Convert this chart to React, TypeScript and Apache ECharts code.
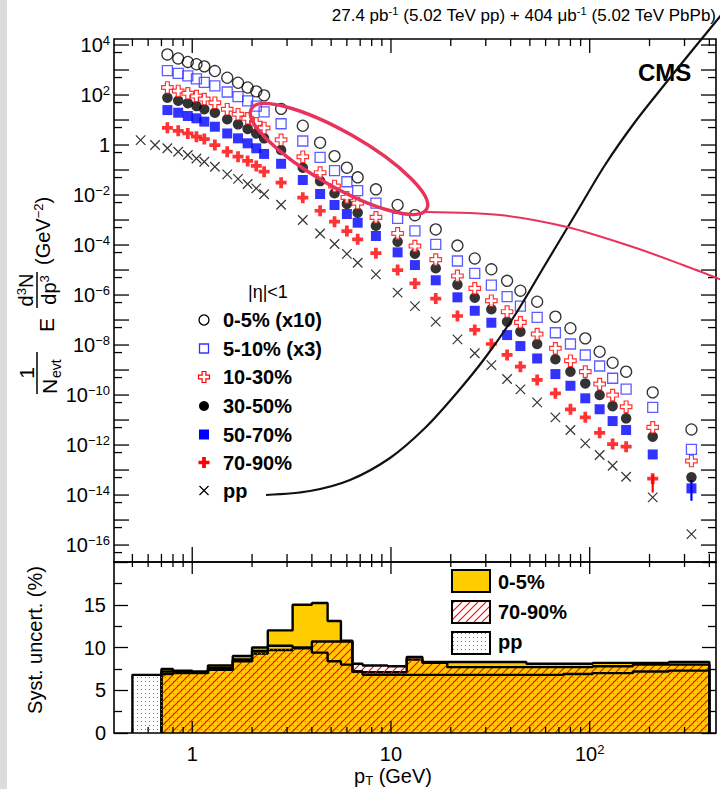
import React, { useEffect, useRef } from "react";
import * as echarts from "echarts";

// ---------------- DATA ----------------
const ptCentres = [0.75, 0.85, 0.95, 1.05, 1.15, 1.3, 1.5, 1.7, 1.9, 2.1, 2.3, 2.8, 3.6, 4.4, 5.2, 6.0, 6.8, 8.4, 10.8, 13.2, 16.8, 21.6, 26.4, 32, 38.4, 44.8, 54.4, 67.2, 80, 95, 112.2, 130.4, 152.5, 207.5, 325];
const ppPtCentres = [0.55, 0.65, ...ptCentres];

const yield0to5x10 = [4.2e3, 2.9e3, 2.1e3, 1.7e3, 1.4e3, 9.1e2, 4.9e2, 3.1e2, 2.0e2, 1.4e2, 97, 28, 5.9, 1.24, 0.36, 0.124, 0.051, 0.0169, 4.0e-3, 1.56e-3, 4.2e-4, 9.5e-5, 2.9e-5, 1.07e-5, 3.7e-6, 1.49e-6, 5.4e-7, 1.36e-7, 4.7e-8, 1.85e-8, 5.4e-9, 1.96e-9, 8.6e-10, 1.28e-10, 4.2e-12];
const yield5to10x3 = [9.4e2, 7.4e2, 5.8e2, 4.4e2, 3.2e2, 2.3e2, 1.32e2, 86, 58, 36, 21, 7.1, 1.45, 0.32, 0.094, 0.034, 0.0149, 4.7e-3, 1.17e-3, 3.7e-4, 1.07e-4, 2.3e-5, 7.4e-6, 2.5e-6, 8.6e-7, 3.6e-7, 1.28e-7, 3.1e-8, 1.1e-8, 4.0e-9, 1.45e-9, 4.7e-10, 1.74e-10, 3.2e-11, 6.7e-13];
const yield10to30 = [2.0e2, 1.45e2, 1.17e2, 91, 69, 49, 27, 17, 11.7, 7.4, 4.8, 1.62, 0.34, 0.078, 0.023, 8.0e-3, 4.7e-3, 1.28e-3, 2.9e-4, 9.1e-5, 2.6e-5, 5.8e-6, 1.85e-6, 5.9e-7, 2.15e-7, 8.1e-8, 2.75e-8, 7.4e-9, 2.35e-9, 8.6e-10, 2.75e-10, 1.0e-10, 3.4e-11, 5.1e-12, 2.3e-13];
const yield30to50 = [78, 59, 47, 36, 27, 19.6, 10.7, 6.7, 4.4, 2.9, 1.85, 0.63, 0.124, 0.036, 0.0117, 4.4e-3, 1.96e-3, 5.9e-4, 1.36e-4, 4.5e-5, 1.17e-5, 2.6e-6, 7.8e-7, 2.7e-7, 8.6e-8, 3.4e-8, 1.1e-8, 2.7e-9, 8.6e-10, 2.9e-10, 1.0e-10, 3.6e-11, 1.17e-11, 2.15e-12, 5.1e-14];
const yield50to70 = [25, 19.6, 14.5, 11.7, 8.6, 5.4, 2.9, 1.85, 1.17, 0.74, 0.44, 0.178, 0.040, 0.011, 4.0e-3, 1.74e-3, 7.8e-4, 2.3e-4, 5.1e-5, 1.58e-5, 3.9e-6, 8.1e-7, 2.35e-7, 7.8e-8, 2.5e-8, 9.1e-9, 2.9e-9, 6.9e-10, 2.35e-10, 7.4e-11, 2.7e-11, 9.1e-12, 4.0e-12, 4.2e-13, 1.85e-14];
const yield70to90 = [4.9, 3.7, 2.9, 2.15, 1.74, 1.0, 0.54, 0.34, 0.23, 0.145, 0.086, 0.031, 7.8e-3, 2.35e-3, 8.6e-4, 3.6e-4, 1.69e-4, 4.7e-5, 1.0e-5, 2.9e-6, 7.2e-7, 1.45e-7, 4.0e-8, 1.1e-8, 4.0e-9, 1.36e-9, 4.0e-10, 1.17e-10, 2.7e-11, 1.28e-11, 3.1e-12, 1.1e-12, 8.6e-13, 4.5e-14, null];
const yieldPP = [1.58, 1.0, 0.74, 0.54, 0.40, 0.29, 0.215, 0.135, 0.067, 0.044, 0.0275, 0.0185, 0.0107, 4.1e-3, 1.0e-3, 2.9e-4, 1.1e-4, 4.4e-5, 1.96e-5, 6.7e-6, 1.24e-6, 3.6e-7, 8.6e-8, 1.69e-8, 4.7e-9, 1.58e-9, 4.4e-10, 1.69e-10, 5.1e-11, 1.28e-11, 4.0e-12, 1.17e-12, 4.0e-13, 1.49e-13, 5.4e-14, 8.1e-15, 2.75e-16];

// visible error bars (pT, low, high)
const err70to90Pt = [207.5];
const err70to90Lo = [1.26e-14];
const err70to90Hi = [6.3e-14];
const err50to70Pt = [325];
const err50to70Lo = [5.9e-15];
const err50to70Hi = [4.0e-14];

// systematic uncertainties (%), histogram bins
const systEdges = [0.7, 0.8, 0.9, 1.0, 1.1, 1.2, 1.4, 1.6, 1.8, 2.0, 2.2, 2.4, 3.2, 4.0, 4.8, 5.6, 6.4, 7.2, 9.6, 12, 14.4, 19.2, 24, 28.8, 35.2, 41.6, 48, 60.8, 73.6, 86.4, 103.6, 120.8, 140, 165, 250, 400];
const systPPEdges = [0.5, 0.6, ...systEdges];
const syst0to5 = [7.5, 7.3, 7.3, 7.2, 7.2, 7.9, 7.9, 9.0, 9.0, 10.0, 10.0, 12.0, 15.0, 15.2, 13.1, 10.8, 7.2, 7.1, 7.1, 8.6, 8.3, 8.3, 8.3, 8.3, 8.3, 8.3, 8.1, 8.1, 8.1, 8.1, 8.2, 8.2, 8.2, 8.2, 8.3];
const syst70to90 = [7.2, 7.2, 7.2, 7.1, 7.1, 7.6, 7.6, 8.6, 8.6, 9.3, 9.3, 9.7, 9.9, 10.7, 10.7, 10.7, 8.1, 7.9, 7.8, 8.9, 8.2, 7.7, 7.7, 7.7, 7.7, 7.7, 7.7, 7.7, 7.7, 7.7, 7.8, 7.8, 7.8, 8.0, 8.0];
const systPP = [6.8, 6.8, 6.9, 7.0, 7.0, 7.0, 7.0, 7.4, 7.4, 8.4, 8.4, 9.6, 9.6, 10.2, 10.0, 9.4, 8.4, 8.0, 7.2, 6.8, 6.8, 6.8, 6.8, 6.8, 6.8, 6.8, 6.8, 6.8, 6.8, 6.8, 6.9, 6.9, 7.0, 7.0, 7.0, 7.2, 7.3];

// axis ticks / ranges
const xTickValues = [0.5, 0.6, 0.7, 0.8, 0.9, 1, 2, 3, 4, 5, 6, 7, 8, 9, 10, 20, 30, 40, 50, 60, 70, 80, 90, 100, 200, 300, 400];
const xMajorTicks = [1, 10, 100];
const yDecadeTicks = [1e-16, 1e-15, 1e-14, 1e-13, 1e-12, 1e-11, 1e-10, 1e-9, 1e-8, 1e-7, 1e-6, 1e-5, 1e-4, 1e-3, 1e-2, 1e-1, 1, 1e1, 1e2, 1e3, 1e4];
const yHalfTicks = [5e-17, 5e-16, 5e-15, 5e-14, 5e-13, 5e-12, 5e-11, 5e-10, 5e-9, 5e-8, 5e-7, 5e-6, 5e-5, 5e-4, 5e-3, 5e-2, 0.5, 5, 50, 500, 5e3];
const xRange = [0.404, 432];
const yRangeUpper = [2.1e-17, 1.74e4];
const yRangeLower = [0, 20];

// ---------------- HELPERS ----------------
const LG = Math.log10;
const FONT = '"Liberation Sans", Arial, Helvetica, sans-serif';
const PLUS = "path://M3.3,0H6.7V3.3H10V6.7H6.7V10H3.3V6.7H0V3.3H3.3Z";
const CROSS = "path://M0,0L10,10M10,0L0,10";

function expLabel(e: number): string {
  if (e === 0) return "{b|1}";
  if (e === 1) return "{b|10}";
  return `{b|10}{s|${e < 0 ? "\u2212" : ""}${Math.abs(e)}}`;
}
const richNum = {
  b: { fontSize: 20, fontFamily: FONT, color: "#000", lineHeight: 22 },
  s: { fontSize: 13, fontFamily: FONT, color: "#000", lineHeight: 13, verticalAlign: "top" },
};

function scatterData(pts: number[], vals: (number | null)[]) {
  const out: number[][] = [];
  pts.forEach((p, i) => {
    const v = vals[i];
    if (v != null) out.push([LG(p), LG(v)]);
  });
  return out;
}
function histData(edges: number[], vals: number[]) {
  const d: number[][] = [[LG(edges[0]), 0]];
  vals.forEach((v, i) => d.push([LG(edges[i]), v]));
  d.push([LG(edges[edges.length - 1]), vals[vals.length - 1]]);
  d.push([LG(edges[edges.length - 1]), 0]);
  return d;
}
function plusPts(cx: number, cy: number, s: number) {
  const h = s / 2, t = s * 0.17;
  return [[cx - t, cy - h], [cx + t, cy - h], [cx + t, cy - t], [cx + h, cy - t], [cx + h, cy + t], [cx + t, cy + t], [cx + t, cy + h], [cx - t, cy + h], [cx - t, cy + t], [cx - h, cy + t], [cx - h, cy - t], [cx - t, cy - t]];
}

function makeHatch() {
  const c = document.createElement("canvas");
  c.width = 8; c.height = 8;
  const g = c.getContext("2d")!;
  g.strokeStyle = "#ff0000"; g.lineWidth = 1.1;
  g.beginPath();
  g.moveTo(0, 8); g.lineTo(8, 0);
  g.moveTo(-2, 2); g.lineTo(2, -2);
  g.moveTo(6, 10); g.lineTo(10, 6);
  g.stroke();
  return c;
}
function makeDots() {
  const c = document.createElement("canvas");
  c.width = 4; c.height = 4;
  const g = c.getContext("2d")!;
  g.fillStyle = "#7a7a7a";
  g.fillRect(1, 1, 1, 1);
  return c;
}

function xTickSeries(xIdx: number, yIdx: number, yRef: number, topMaj: number, topMin: number, botMaj: number, botMin: number) {
  return {
    type: "custom",
    xAxisIndex: xIdx,
    yAxisIndex: yIdx,
    silent: true,
    z: 20,
    data: xTickValues.map((t) => [LG(t), yRef, xMajorTicks.includes(t) ? 1 : 0]),
    renderItem: (params: any, api: any) => {
      const cs = params.coordSys;
      const x = api.coord([api.value(0), yRef])[0];
      const major = api.value(2) === 1;
      const bot = cs.y + cs.height;
      const st = { stroke: "#000", lineWidth: 1.3 };
      return {
        type: "group",
        children: [
          { type: "line", shape: { x1: x, y1: cs.y, x2: x, y2: cs.y + (major ? topMaj : topMin) }, style: st },
          { type: "line", shape: { x1: x, y1: bot, x2: x, y2: bot - (major ? botMaj : botMin) }, style: st },
        ],
      };
    },
  };
}

function yTickSeries(lenMaj: number, lenMin: number) {
  const data = [
    ...yDecadeTicks.map((t) => [0, LG(t), 1]),
    ...yHalfTicks.map((t) => [0, LG(t), 0]),
  ];
  return {
    type: "custom",
    xAxisIndex: 0,
    yAxisIndex: 0,
    silent: true,
    z: 20,
    data,
    renderItem: (params: any, api: any) => {
      const cs = params.coordSys;
      const y = api.coord([0, api.value(1)])[1];
      if (y < cs.y - 0.5 || y > cs.y + cs.height + 0.5) return null;
      const len = api.value(2) === 1 ? lenMaj : lenMin;
      const st = { stroke: "#000", lineWidth: 1.3 };
      return {
        type: "group",
        children: [
          { type: "line", shape: { x1: cs.x, y1: y, x2: cs.x + len, y2: y }, style: st },
          { type: "line", shape: { x1: cs.x + cs.width, y1: y, x2: cs.x + cs.width - len, y2: y }, style: st },
        ],
      };
    },
  };
}

function errSeries(pts: number[], lo: number[], hi: number[], color: string) {
  return {
    type: "custom",
    xAxisIndex: 0,
    yAxisIndex: 0,
    silent: true,
    z: 3,
    data: pts.map((p, i) => [LG(p), LG(lo[i]), LG(hi[i])]),
    renderItem: (_p: any, api: any) => {
      const a = api.coord([api.value(0), api.value(1)]);
      const b = api.coord([api.value(0), api.value(2)]);
      return { type: "line", shape: { x1: a[0], y1: a[1], x2: b[0], y2: b[1] }, style: { stroke: color, lineWidth: 2.2 } };
    },
  };
}

export default function App() {
  const ref = useRef<HTMLDivElement>(null);
  useEffect(() => {
    const chart = echarts.init(ref.current!, undefined, { renderer: "svg" });
    const hatch = { image: makeHatch(), repeat: "repeat" };
    const dots = { image: makeDots(), repeat: "repeat" };
    const noLine = { show: false, onZero: false };

    const xCommon = {
      type: "value",
      min: LG(xRange[0]),
      max: LG(xRange[1]),
      minInterval: 1,
      maxInterval: 1,
      axisLine: noLine,
      axisTick: { show: false },
      splitLine: { show: false },
    };
    const yUp = {
      type: "value",
      gridIndex: 0,
      min: LG(yRangeUpper[0]),
      max: LG(yRangeUpper[1]),
      minInterval: 1,
      maxInterval: 1,
      axisLine: noLine,
      splitLine: { show: false },
      axisTick: { show: false },
    };
    const yLow = {
      type: "value",
      gridIndex: 1,
      min: yRangeLower[0],
      max: yRangeLower[1],
      interval: 5,
      axisLine: noLine,
      splitLine: { show: false },
      axisTick: { show: true, inside: true, length: 14, lineStyle: { color: "#000", width: 1.3 } },
      minorTick: { show: true, splitNumber: 2, length: 8, lineStyle: { color: "#000", width: 1.3 } },
    };

    const markerSeries = (name: string, pts: number[], vals: (number | null)[], symbol: string, size: number, itemStyle: any, z: number) => ({
      name,
      type: "scatter",
      xAxisIndex: 0,
      yAxisIndex: 0,
      symbol,
      symbolSize: size,
      itemStyle,
      z,
      data: scatterData(pts, vals),
    });

    const histSeries = (name: string, edges: number[], vals: number[], fill: any, z: number) => ({
      name,
      type: "line",
      xAxisIndex: 1,
      yAxisIndex: 2,
      step: "end",
      showSymbol: false,
      symbol: "none",
      z,
      lineStyle: { color: "#000", width: 2.4 },
      areaStyle: { color: fill, opacity: 1 },
      data: histData(edges, vals),
    });

    const txt = (x: number, y: number, text: string, size: number, opts: any = {}) => ({
      type: "text",
      x,
      y,
      z: 150,
      style: {
        text,
        fontSize: size,
        fontFamily: FONT,
        fontWeight: opts.bold ? "bold" : "normal",
        fill: "#000",
        align: opts.align || "left",
        verticalAlign: opts.va || "middle",
        rich: opts.rich,
      },
    });

    const legY = [320, 348.5, 377, 406, 434.5, 462.5, 490.5];
    const legX = 204;

    const option: any = {
      animation: false,
      backgroundColor: "#fff",
      grid: [
        { left: 114, top: 39, width: 602, height: 523 },
        { left: 114, top: 562, width: 602, height: 171 },
      ],
      xAxis: [
        { ...xCommon, gridIndex: 0, axisLabel: { show: false } },
        {
          ...xCommon,
          gridIndex: 1,
          axisLabel: {
            show: true,
            margin: 10,
            rich: richNum,
            formatter: (v: number) => {
              const e = Math.round(v);
              return Math.abs(v - e) > 1e-6 ? "" : expLabel(e);
            },
          },
        },
      ],
      yAxis: [
        {
          ...yUp,
          position: "left",
          axisLabel: {
            show: true,
            margin: 4,
            rich: richNum,
            formatter: (v: number) => {
              const e = Math.round(v);
              if (Math.abs(v - e) > 1e-6 || e % 2 !== 0) return "";
              return expLabel(e);
            },
          },
        },
        { ...yUp, position: "right", axisLabel: { show: false } },
        {
          ...yLow,
          position: "left",
          axisLabel: {
            show: true,
            margin: 8,
            fontSize: 20,
            fontFamily: FONT,
            color: "#000",
            formatter: (v: number) => (v >= 20 ? "" : String(v)),
          },
        },
        { ...yLow, position: "right", axisLabel: { show: false } },
      ],
      series: [
        markerSeries("pp", ppPtCentres, yieldPP, CROSS, 9.5, { color: "rgba(0,0,0,0)", borderColor: "#000", borderWidth: 1.2 }, 4),
        markerSeries("70-90%", ptCentres, yield70to90, PLUS, 11, { color: "#ff0000" }, 5),
        markerSeries("50-70%", ptCentres, yield50to70, "rect", 10, { color: "#0000ff" }, 5),
        markerSeries("30-50%", ptCentres, yield30to50, "circle", 10.5, { color: "#000" }, 5),
        markerSeries("10-30%", ptCentres, yield10to30, PLUS, 11.5, { color: "#fff", borderColor: "#ff0000", borderWidth: 1.2 }, 6),
        markerSeries("5-10% (x3)", ptCentres, yield5to10x3, "rect", 10, { color: "rgba(255,255,255,0)", borderColor: "#3434ff", borderWidth: 1.3 }, 6),
        markerSeries("0-5% (x10)", ptCentres, yield0to5x10, "circle", 11, { color: "rgba(255,255,255,0)", borderColor: "#000", borderWidth: 1.3 }, 6),
        errSeries(err70to90Pt, err70to90Lo, err70to90Hi, "#ff0000"),
        errSeries(err50to70Pt, err50to70Lo, err50to70Hi, "#0000ff"),
        histSeries("0-5% syst", systEdges, syst0to5, "#ffcc00", 2),
        histSeries("70-90% syst", systEdges, syst70to90, hatch, 3),
        histSeries("pp syst", systPPEdges, systPP, dots, 4),
        xTickSeries(0, 0, 0, 14, 7, 15, 8),
        xTickSeries(1, 2, 5, 12, 5, 12, 6),
        yTickSeries(15, 8),
      ],
      graphic: [
        { type: "rect", shape: { x: 0, y: 0, width: 7, height: 789 }, style: { fill: "#dcdcdc" }, z: 1 },
        { type: "rect", shape: { x: 114, y: 39, width: 602, height: 523 }, style: { fill: "none", stroke: "#000", lineWidth: 1.6 }, z: 120 },
        { type: "rect", shape: { x: 114, y: 562, width: 602, height: 171 }, style: { fill: "none", stroke: "#000", lineWidth: 1.6 }, z: 120 },
        // header
        txt(716, 15, "{n|27.4 pb}{s|-1}{n| (5.02 TeV pp) + 404 \u03bcb}{s|-1}{n| (5.02 TeV PbPb)}", 17, {
          align: "right",
          rich: {
            n: { fontSize: 17, fontFamily: FONT, lineHeight: 19, fill: "#000" },
            s: { fontSize: 11, fontFamily: FONT, lineHeight: 11, verticalAlign: "top", fill: "#000" },
          },
        }),
        txt(638, 72, "CMS", 24, { bold: true }),
        // upper legend
        txt(248, 292, "|\u03b7|<1", 18),
        { type: "circle", z: 150, shape: { cx: legX, cy: legY[0], r: 5 }, style: { fill: "none", stroke: "#000", lineWidth: 1.3 } },
        { type: "rect", z: 150, shape: { x: legX - 4.5, y: legY[1] - 4.5, width: 9, height: 9 }, style: { fill: "none", stroke: "#3434ff", lineWidth: 1.3 } },
        { type: "polygon", z: 150, shape: { points: plusPts(legX, legY[2], 11) }, style: { fill: "#fff", stroke: "#ff0000", lineWidth: 1.2 } },
        { type: "circle", z: 150, shape: { cx: legX, cy: legY[3], r: 5 }, style: { fill: "#000" } },
        { type: "rect", z: 150, shape: { x: legX - 5, y: legY[4] - 5, width: 10, height: 10 }, style: { fill: "#0000ff" } },
        { type: "polygon", z: 150, shape: { points: plusPts(legX, legY[5], 11) }, style: { fill: "#ff0000" } },
        { type: "line", z: 150, shape: { x1: legX - 4.5, y1: legY[6] - 4.5, x2: legX + 4.5, y2: legY[6] + 4.5 }, style: { stroke: "#000", lineWidth: 1.2 } },
        { type: "line", z: 150, shape: { x1: legX + 4.5, y1: legY[6] - 4.5, x2: legX - 4.5, y2: legY[6] + 4.5 }, style: { stroke: "#000", lineWidth: 1.2 } },
        txt(223, legY[0], "0-5% (x10)", 20, { bold: true }),
        txt(223, legY[1], "5-10% (x3)", 20, { bold: true }),
        txt(223, legY[2], "10-30%", 20, { bold: true }),
        txt(223, legY[3], "30-50%", 20, { bold: true }),
        txt(223, legY[4], "50-70%", 20, { bold: true }),
        txt(223, legY[5], "70-90%", 20, { bold: true }),
        txt(223, legY[6], "pp", 20, { bold: true }),
        // lower legend
        { type: "rect", z: 150, shape: { x: 452, y: 570, width: 38, height: 22 }, style: { fill: "#ffcc00", stroke: "#000", lineWidth: 2 } },
        { type: "rect", z: 150, shape: { x: 452, y: 601, width: 38, height: 22 }, style: { fill: "#fff" } },
        { type: "rect", z: 151, shape: { x: 452, y: 601, width: 38, height: 22 }, style: { fill: hatch, stroke: "#000", lineWidth: 2 } },
        { type: "rect", z: 150, shape: { x: 452, y: 632, width: 38, height: 22 }, style: { fill: "#fff" } },
        { type: "rect", z: 151, shape: { x: 452, y: 632, width: 38, height: 22 }, style: { fill: dots, stroke: "#000", lineWidth: 2 } },
        txt(498, 582, "0-5%", 20, { bold: true }),
        txt(498, 612, "70-90%", 20, { bold: true }),
        txt(498, 642, "pp", 20, { bold: true }),
        // y titles
        {
          type: "group",
          x: 37,
          y: 400,
          rotation: Math.PI / 2,
          z: 150,
          children: [
            { type: "text", x: 27, y: -11, style: { text: "1", fontSize: 21, fontFamily: FONT, fill: "#000", align: "center", verticalAlign: "middle" } },
            { type: "line", shape: { x1: 6, y1: 0, x2: 48, y2: 0 }, style: { stroke: "#000", lineWidth: 1.5 } },
            { type: "text", x: 6, y: 12, style: { text: "N", fontSize: 21, fontFamily: FONT, fill: "#000", align: "left", verticalAlign: "middle" } },
            { type: "text", x: 22, y: 19, style: { text: "evt", fontSize: 14, fontFamily: FONT, fill: "#000", align: "left", verticalAlign: "middle" } },
            { type: "text", x: 75, y: 9, style: { text: "E", fontSize: 21, fontFamily: FONT, fill: "#000", align: "center", verticalAlign: "middle" } },
            { type: "text", x: 110, y: -11, style: { text: "{b|d}{s|3}{b|N}", rich: richNum, fontSize: 20, fontFamily: FONT, fill: "#000", align: "center", verticalAlign: "middle" } },
            { type: "line", shape: { x1: 92, y1: 0, x2: 128, y2: 0 }, style: { stroke: "#000", lineWidth: 1.5 } },
            { type: "text", x: 110, y: 12, style: { text: "{b|dp}{s|3}", rich: richNum, fontSize: 20, fontFamily: FONT, fill: "#000", align: "center", verticalAlign: "middle" } },
            { type: "text", x: 135, y: 6, style: { text: "{b|(GeV}{s|\u22122}{b|)}", rich: richNum, fontSize: 20, fontFamily: FONT, fill: "#000", align: "left", verticalAlign: "middle" } },
          ],
        },
        { type: "text", x: 35, y: 640, rotation: Math.PI / 2, z: 150, style: { text: "Syst. uncert. (%)", fontSize: 20, fontFamily: FONT, fill: "#000", align: "center", verticalAlign: "middle" } },
        // x title
        txt(393, 776, "{b|p}{u|T}{b| (GeV)}", 20, {
          align: "center",
          rich: {
            b: { fontSize: 20, fontFamily: FONT, lineHeight: 22, fill: "#000" },
            u: { fontSize: 13, fontFamily: FONT, lineHeight: 13, verticalAlign: "bottom", fill: "#000" },
          },
        }),
        // annotations
        {
          type: "polyline",
          z: 200,
          shape: {
            points: [[266, 495], [310, 491], [350, 480], [390, 458], [425, 428], [455, 395], [485, 358], [515, 315], [545, 265], [575, 215], [605, 165], [635, 122], [665, 84], [695, 47], [722, 14]],
            smooth: 0.3,
          },
          style: { stroke: "#111", lineWidth: 2.2, fill: "none" },
        },
        {
          type: "ellipse",
          z: 200,
          x: 339,
          y: 159,
          rotation: -0.52,
          shape: { cx: 0, cy: 0, rx: 101, ry: 27 },
          style: { stroke: "#e8335c", lineWidth: 3.5, fill: "none" },
        },
        {
          type: "polyline",
          z: 200,
          shape: { points: [[425, 212], [500, 215], [567, 227], [633, 247], [683, 265], [722, 280]], smooth: 0.3 },
          style: { stroke: "#e8335c", lineWidth: 2, fill: "none" },
        },
      ],
    };
    chart.setOption(option);
    return () => chart.dispose();
  }, []);
  return <div ref={ref} style={{ position: "absolute", left: 0, top: 0, width: 720, height: 789, background: "#fff" }} />;
}
